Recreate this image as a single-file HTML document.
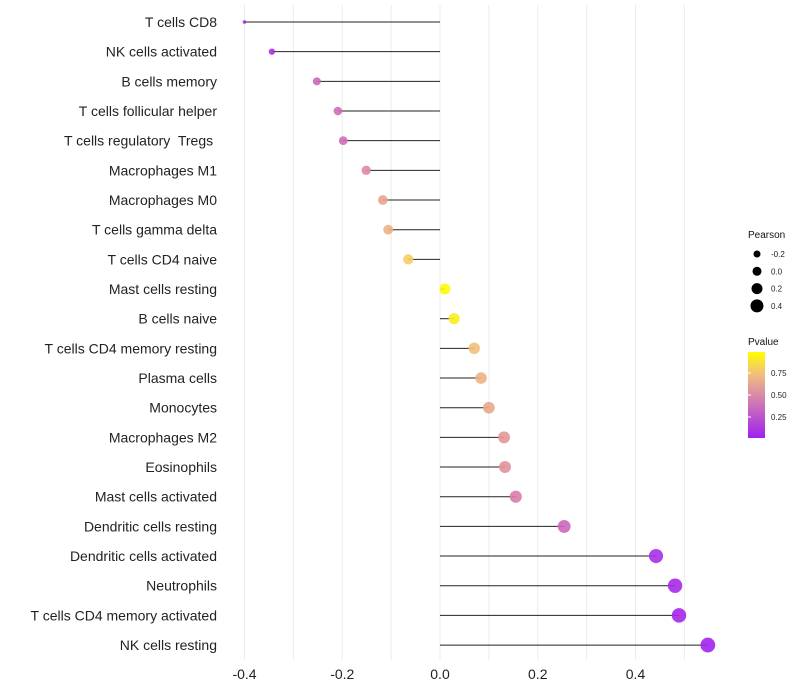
<!DOCTYPE html>
<html><head><meta charset="utf-8"><style>body{margin:0;background:#fff}svg{display:block;font-family:"Liberation Sans",sans-serif}text{white-space:pre}</style></head>
<body><svg id="c" width="800" height="700">
<defs><linearGradient id="pg" x1="0" y1="1" x2="0" y2="0">
<stop offset="0" stop-color="#A020F0"/><stop offset="0.5" stop-color="#D98AA8"/><stop offset="0.75" stop-color="#F2C07A"/><stop offset="1" stop-color="#FFFF00"/></linearGradient></defs>
</svg>
<script>
const categories=["T cells CD8","NK cells activated","B cells memory","T cells follicular helper","T cells regulatory  Tregs ","Macrophages M1","Macrophages M0","T cells gamma delta","T cells CD4 naive","Mast cells resting","B cells naive","T cells CD4 memory resting","Plasma cells","Monocytes","Macrophages M2","Eosinophils","Mast cells activated","Dendritic cells resting","Dendritic cells activated","Neutrophils","T cells CD4 memory activated","NK cells resting"];
const pearson=[-0.4,-0.344,-0.252,-0.209,-0.198,-0.151,-0.117,-0.106,-0.065,0.01,0.029,0.07,0.084,0.1,0.131,0.133,0.155,0.254,0.442,0.481,0.489,0.548];
const pvalue=[0.03,0.1,0.38,0.42,0.42,0.55,0.65,0.7,0.8,0.98,0.93,0.75,0.7,0.66,0.6,0.58,0.5,0.38,0.08,0.05,0.04,0.02];
const xTicks=[-0.4,-0.2,0,0.2,0.4];
const sizeLegend=[-0.2,0,0.2,0.4];
const pTicks=[0.25,0.5,0.75];
const svg=document.getElementById('c');const NS='http://www.w3.org/2000/svg';
function mk(t,a,p){const e=document.createElementNS(NS,t);for(const k in a)e.setAttribute(k,a[k]);(p||svg).appendChild(e);return e;}
const xs=v=>440+v*488.75;
const ys=i=>22+i*29.67;
const rs=v=>1.8+5.6*Math.sqrt(Math.max(0,v+0.4)/0.95);
function lerp(a,b,t){return a.map((x,i)=>Math.round(x+(b[i]-x)*t));}
function col(p){const st=[[0,[160,32,240]],[0.5,[217,125,170]],[0.75,[242,192,122]],[1,[255,255,0]]];for(let i=1;i<st.length;i++){if(p<=st[i][0]){const t=(p-st[i-1][0])/(st[i][0]-st[i-1][0]);return 'rgb('+lerp(st[i-1][1],st[i][1],t).join(',')+')';}}return 'rgb(255,255,0)';}
for(let v=-0.4;v<=0.55;v+=0.1){const g=mk('line',{x1:xs(v),x2:xs(v),y1:5,y2:660,stroke:'#ebebeb','stroke-width':1});

}
xTicks.forEach(t=>{const e=mk('text',{x:xs(t),y:679,'text-anchor':'middle','font-size':14,fill:'#222'});e.textContent=t.toFixed(1);

});
categories.forEach((c,i)=>{const y=ys(i);
const l=mk('text',{x:217,y:y+5,'text-anchor':'end','font-size':14,fill:'#222'});l.textContent=c;


const s=mk('line',{x1:xs(0),x2:xs(pearson[i]),y1:y,y2:y,stroke:'#222','stroke-width':1});


const d=mk('circle',{cx:xs(pearson[i]),cy:y,r:rs(pearson[i]),fill:col(pvalue[i]),'fill-opacity':0.9});

});
let t=mk('text',{x:748,y:238,'font-size':10,fill:'#111'});t.textContent='Pearson';


sizeLegend.forEach((v,i)=>{const y=254+i*17.3;const c=mk('circle',{cx:757,cy:y,r:3.5+i,fill:'#000'});


const l=mk('text',{x:771,y:y+3,'font-size':8,fill:'#222'});l.textContent=v.toFixed(1);

});
t=mk('text',{x:748,y:345,'font-size':10,fill:'#111'});t.textContent='Pvalue';


const bar=mk('rect',{x:748,y:352,width:17,height:86,fill:'url(#pg)'});


const py=p=>439-p*88;
pTicks.forEach(p=>{const l=mk('text',{x:771,y:py(p)+3,'font-size':8,fill:'#222'});l.textContent=p.toFixed(2);


const k=mk('line',{x1:748,x2:751,y1:py(p),y2:py(p),stroke:'#fff'});

});
</script></body></html>
